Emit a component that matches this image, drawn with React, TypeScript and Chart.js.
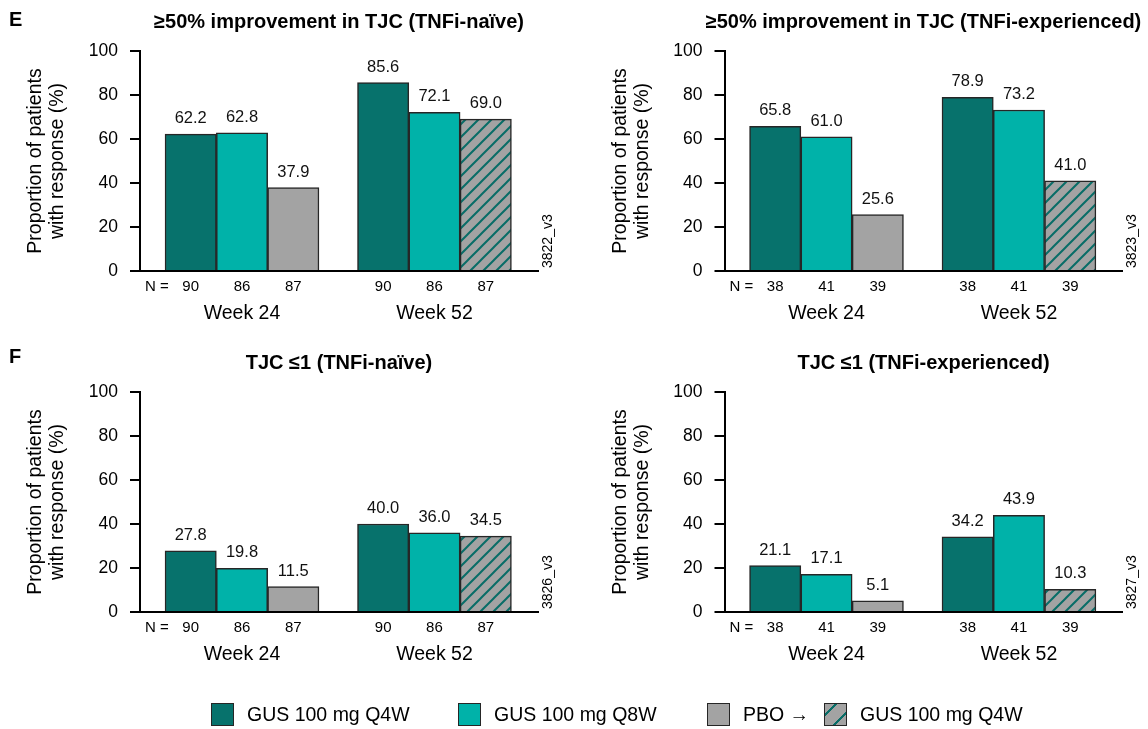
import React, { useEffect, useRef } from 'react';
import { Chart, registerables } from 'chart.js';

Chart.register(...registerables);

const FONT = "'Liberation Sans', Arial, Helvetica, sans-serif";

// ---- data ----
const weeks = ['Week 24', 'Week 52'];
const seriesNames = ['GUS 100 mg Q4W', 'GUS 100 mg Q8W', 'PBO → GUS 100 mg Q4W'];
const yTicks = [0, 20, 40, 60, 80, 100];
const yTitle = ['Proportion of patients', 'with response (%)'];
const legendLabels = ['GUS 100 mg Q4W', 'GUS 100 mg Q8W', 'PBO →', 'GUS 100 mg Q4W'];

const naiveN = [90, 86, 87];
const expN = [38, 41, 39];

const tjc50NaiveQ4W = [62.2, 85.6];
const tjc50NaiveQ8W = [62.8, 72.1];
const tjc50NaivePBO = [37.9, 69.0];

const tjc50ExpQ4W = [65.8, 78.9];
const tjc50ExpQ8W = [61.0, 73.2];
const tjc50ExpPBO = [25.6, 41.0];

const tjc1NaiveQ4W = [27.8, 40.0];
const tjc1NaiveQ8W = [19.8, 36.0];
const tjc1NaivePBO = [11.5, 34.5];

const tjc1ExpQ4W = [21.1, 34.2];
const tjc1ExpQ8W = [17.1, 43.9];
const tjc1ExpPBO = [5.1, 10.3];

// ---- styles ----
const C_Q4W = '#07726c';
const C_Q8W = '#00b2a9';
const C_PBO = '#a3a3a3';
const C_HATCH = '#086d67';
const C_EDGE = '#262626';

const W = 1148;
const H = 729;
const Y_SCALE_W = 120;

type Panel = {
  letter: string;
  letterY: number;
  title: string;
  code: string;
  n: number[];
  q4w: number[];
  q8w: number[];
  pbo: number[];
  area: { left: number; right: number; top: number; bottom: number };
};

const panels: Panel[] = [
  { letter: 'E', letterY: 26, title: '≥50% improvement in TJC (TNFi-naïve)', code: '3822_v3', n: naiveN,
    q4w: tjc50NaiveQ4W, q8w: tjc50NaiveQ8W, pbo: tjc50NaivePBO, area: { left: 140, right: 538, top: 51, bottom: 271 } },
  { letter: '', letterY: 0, title: '≥50% improvement in TJC (TNFi-experienced)', code: '3823_v3', n: expN,
    q4w: tjc50ExpQ4W, q8w: tjc50ExpQ8W, pbo: tjc50ExpPBO, area: { left: 724.5, right: 1122.5, top: 51, bottom: 271 } },
  { letter: 'F', letterY: 363, title: 'TJC ≤1 (TNFi-naïve)', code: '3826_v3', n: naiveN,
    q4w: tjc1NaiveQ4W, q8w: tjc1NaiveQ8W, pbo: tjc1NaivePBO, area: { left: 140, right: 538, top: 392, bottom: 612 } },
  { letter: '', letterY: 0, title: 'TJC ≤1 (TNFi-experienced)', code: '3827_v3', n: expN,
    q4w: tjc1ExpQ4W, q8w: tjc1ExpQ8W, pbo: tjc1ExpPBO, area: { left: 724.5, right: 1122.5, top: 392, bottom: 612 } },
];

function makePattern(): CanvasPattern | string {
  const T = 13;
  const c = document.createElement('canvas');
  c.width = T;
  c.height = T;
  const g = c.getContext('2d');
  if (!g) return C_PBO;
  g.fillStyle = C_PBO;
  g.fillRect(0, 0, T, T);
  g.strokeStyle = C_HATCH;
  g.lineWidth = 2;
  g.beginPath();
  g.moveTo(-1, T + 1);
  g.lineTo(T + 1, -1);
  g.moveTo(-2, 2);
  g.lineTo(2, -2);
  g.moveTo(T - 2, T + 2);
  g.lineTo(T + 2, T - 2);
  g.stroke();
  return g.createPattern(c, 'repeat') || C_PBO;
}

function panelPlugin(panel: Panel) {
  return {
    id: 'panelText',
    afterDatasetsDraw(chart: any) {
      const ctx = chart.ctx;
      ctx.save();
      ctx.fillStyle = '#111';
      ctx.font = `16.5px ${FONT}`;
      ctx.textAlign = 'center';
      ctx.textBaseline = 'alphabetic';
      chart.data.datasets.forEach((ds: any, d: number) => {
        chart.getDatasetMeta(d).data.forEach((el: any, i: number) => {
          const v = ds.data[i].y as number;
          ctx.fillText(v.toFixed(1), el.x, el.y - 11);
        });
      });
      ctx.restore();
    },
    afterDraw(chart: any) {
      const ctx = chart.ctx;
      const a = chart.chartArea;
      const xs = chart.scales.x;
      ctx.save();
      ctx.fillStyle = '#000';
      ctx.textBaseline = 'alphabetic';

      ctx.font = `bold 20px ${FONT}`;
      ctx.textAlign = 'center';
      ctx.fillText(panel.title, (a.left + a.right) / 2, a.top - 22.7);

      if (panel.letter) {
        ctx.font = `bold 20px ${FONT}`;
        ctx.textAlign = 'left';
        ctx.fillText(panel.letter, 9, panel.letterY);
      }

      ctx.font = `19.5px ${FONT}`;
      const offs = [104, 82];
      yTitle.forEach((t, k) => {
        ctx.save();
        ctx.translate(a.left - offs[k], (a.top + a.bottom) / 2);
        ctx.rotate(-Math.PI / 2);
        ctx.textAlign = 'center';
        ctx.textBaseline = 'middle';
        ctx.fillText(t, 0, 0);
        ctx.restore();
      });

      ctx.font = `15px ${FONT}`;
      ctx.textAlign = 'center';
      weeks.forEach((_, i) => {
        chart.data.datasets.forEach((_ds: any, d: number) => {
          const el = chart.getDatasetMeta(d).data[i];
          ctx.fillText(String(panel.n[d]), el.x, a.bottom + 19.5);
        });
      });
      ctx.textAlign = 'right';
      ctx.fillText('N =', chart.getDatasetMeta(0).data[0].x - 22, a.bottom + 19.5);

      ctx.font = `19.5px ${FONT}`;
      ctx.textAlign = 'center';
      weeks.forEach((w, i) => {
        ctx.fillText(w, xs.getPixelForValue(i), a.bottom + 47.5);
      });

      ctx.font = `14px ${FONT}`;
      ctx.save();
      ctx.translate(a.right + 10, a.bottom - 3);
      ctx.rotate(-Math.PI / 2);
      ctx.textAlign = 'left';
      ctx.textBaseline = 'middle';
      ctx.fillText(panel.code, 0, 0);
      ctx.restore();

      ctx.restore();
    },
  };
}

function buildChart(canvas: HTMLCanvasElement, panel: Panel, pattern: CanvasPattern | string) {
  const a = panel.area;
  const toPts = (arr: number[]) => arr.map((v, i) => ({ x: i, y: v }));
  const common = { borderColor: C_EDGE, borderWidth: 1.5, barThickness: 51.3, borderSkipped: 'bottom' };
  return new Chart(canvas, {
    type: 'bar',
    data: {
      datasets: [
        { label: seriesNames[0], data: toPts(panel.q4w), backgroundColor: C_Q4W, ...common },
        { label: seriesNames[1], data: toPts(panel.q8w), backgroundColor: C_Q8W, ...common },
        { label: seriesNames[2], data: toPts(panel.pbo), backgroundColor: [C_PBO, pattern], ...common },
      ] as any,
    },
    options: {
      responsive: false,
      animation: false,
      devicePixelRatio: 1,
      layout: {
        autoPadding: false,
        padding: { left: a.left - Y_SCALE_W, right: W - a.right, top: a.top, bottom: H - a.bottom - 20 },
      },
      plugins: { legend: { display: false }, tooltip: { enabled: false }, title: { display: false } },
      scales: {
        x: {
          type: 'linear',
          offset: false,
          min: -0.53,
          max: 1.538,
          grid: { display: false },
          ticks: { display: false },
          border: { display: true, color: '#000', width: 2 },
          afterFit: (s: any) => { s.height = 20; },
        },
        y: {
          min: yTicks[0],
          max: yTicks[yTicks.length - 1],
          afterBuildTicks: (s: any) => { s.ticks = yTicks.map((v) => ({ value: v })); },
          ticks: { color: '#000', font: { size: 17.5, family: FONT }, padding: 12 },
          grid: { display: true, drawOnChartArea: false, drawTicks: true, tickLength: 10, color: '#000', lineWidth: 2 },
          border: { display: true, color: '#000', width: 2 },
          afterFit: (s: any) => { s.width = Y_SCALE_W; },
        },
      },
    } as any,
    plugins: [panelPlugin(panel)],
  });
}

const swatchBase: React.CSSProperties = {
  position: 'absolute',
  top: 703,
  width: 23,
  height: 23,
  boxSizing: 'border-box',
  border: `1.5px solid ${C_EDGE}`,
};
const legendText: React.CSSProperties = {
  position: 'absolute',
  top: 705,
  fontFamily: FONT,
  fontSize: '19.5px',
  lineHeight: '19.5px',
  color: '#000',
  whiteSpace: 'nowrap',
};

export default function App() {
  const refs = [useRef<HTMLCanvasElement>(null), useRef<HTMLCanvasElement>(null), useRef<HTMLCanvasElement>(null), useRef<HTMLCanvasElement>(null)];

  useEffect(() => {
    Chart.defaults.font.family = FONT;
    const pattern = makePattern();
    const charts = panels.map((p, i) => buildChart(refs[i].current as HTMLCanvasElement, p, pattern));
    return () => charts.forEach((c) => c.destroy());
  }, []);

  const hatchBg = `repeating-linear-gradient(135deg, ${C_PBO} 0px, ${C_PBO} 7px, ${C_HATCH} 7px, ${C_HATCH} 9px, ${C_PBO} 9px, ${C_PBO} 13px)`;

  return (
    <div style={{ position: 'absolute', left: 0, top: 0, width: W, height: H, background: '#fff', overflow: 'hidden' }}>
      {refs.map((r, i) => (
        <canvas key={i} ref={r} width={W} height={H} style={{ position: 'absolute', left: 0, top: 0, width: W, height: H }} />
      ))}
      <div style={{ ...swatchBase, left: 211, background: C_Q4W }} />
      <div style={{ ...legendText, left: 247 }}>{legendLabels[0]}</div>
      <div style={{ ...swatchBase, left: 458, background: C_Q8W }} />
      <div style={{ ...legendText, left: 494 }}>{legendLabels[1]}</div>
      <div style={{ ...swatchBase, left: 707, background: C_PBO }} />
      <div style={{ ...legendText, left: 743 }}>{legendLabels[2]}</div>
      <div style={{ ...swatchBase, left: 824, background: hatchBg }} />
      <div style={{ ...legendText, left: 860 }}>{legendLabels[3]}</div>
    </div>
  );
}
